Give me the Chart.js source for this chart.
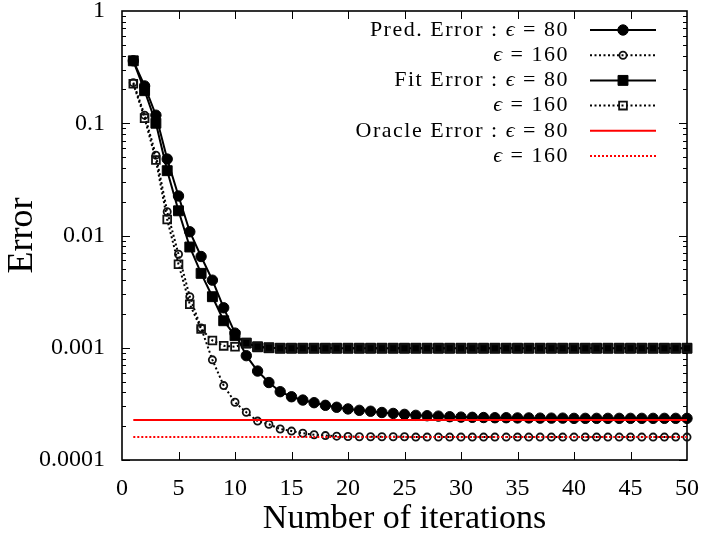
<!DOCTYPE html>
<html><head><meta charset="utf-8">
<script src="https://cdn.jsdelivr.net/npm/chart.js@4.4.1/dist/chart.umd.min.js"></script>
<style>html,body{margin:0;padding:0;background:#fff}#wrap{width:704px;height:539px}</style>
</head><body><div id="wrap"><canvas id="c" width="704" height="539"></canvas></div>
<script>
// ---- data ----
const iterations = [1,2,3,4,5,6,7,8,9,10,11,12,13,14,15,16,17,18,19,20,21,22,23,24,25,26,27,28,29,30,31,32,33,34,35,36,37,38,39,40,41,42,43,44,45,46,47,48,49,50];
const predErr80 = [0.36,0.215,0.118,0.048,0.0225,0.0108,0.0065,0.0040,0.00227,0.00135,0.00085,0.00062,0.00049,0.000406,0.000366,0.000342,0.000324,0.000307,0.000295,0.000285,0.000277,0.000272,0.000265,0.00026,0.000255,0.00025,0.000248,0.000246,0.000243,0.000241,0.00024,0.000239,0.000238,0.000238,0.000237,0.000237,0.000236,0.000236,0.000236,0.000235,0.000235,0.000235,0.000235,0.000235,0.000235,0.000235,0.000235,0.000235,0.000235,0.000235];
const predErr160 = [0.23,0.118,0.052,0.0163,0.0068,0.00285,0.0015,0.00078,0.00046,0.000327,0.000266,0.000222,0.000208,0.000189,0.000181,0.000173,0.000168,0.000165,0.000163,0.000162,0.000161,0.000161,0.000161,0.000161,0.000161,0.00016,0.00016,0.00016,0.00016,0.00016,0.00016,0.00016,0.00016,0.00016,0.00016,0.00016,0.00016,0.00016,0.00016,0.00016,0.00016,0.00016,0.00016,0.00016,0.00016,0.00016,0.00016,0.00016,0.00016,0.00016];
const fitErr80 = [0.36,0.195,0.10,0.0378,0.0166,0.0079,0.0046,0.00285,0.00174,0.00128,0.0011,0.00102,0.0010,0.00099,0.00099,0.00099,0.00099,0.00099,0.00099,0.00099,0.00099,0.00099,0.00099,0.00099,0.00099,0.00099,0.00099,0.00099,0.00099,0.00099,0.00099,0.00099,0.00099,0.00099,0.00099,0.00099,0.00099,0.00099,0.00099,0.00099,0.00099,0.00099,0.00099,0.00099,0.00099,0.00099,0.00099,0.00099,0.00099,0.00099];
const fitErr160 = [0.225,0.111,0.047,0.0139,0.00554,0.00244,0.00147,0.00116,0.00104,0.00102,0.0011,0.00102,0.0010,0.00099,0.00099,0.00099,0.00099,0.00099,0.00099,0.00099,0.00099,0.00099,0.00099,0.00099,0.00099,0.00099,0.00099,0.00099,0.00099,0.00099,0.00099,0.00099,0.00099,0.00099,0.00099,0.00099,0.00099,0.00099,0.00099,0.00099,0.00099,0.00099,0.00099,0.00099,0.00099,0.00099,0.00099,0.00099,0.00099,0.00099];
const oracleX = [1, 50];
const oracle80 = [0.000227, 0.000227];
const oracle160 = [0.00016, 0.00016];
const xTickValues = [0,5,10,15,20,25,30,35,40,45,50];
const yTickValues = [0.0001,0.001,0.01,0.1,1];
const yTickLabels = ['0.0001','0.001','0.01','0.1','1'];
const legendPrefix = ['Pred. Error : ','','Fit Error : ','','Oracle Error : ',''];
const legendEps = ['80','160','80','160','80','160'];

const SERIF = '"Liberation Serif", "DejaVu Serif", serif';
const pts = (xs, ys) => xs.map((x,i)=>({x, y: ys[i]}));

const datasets = [
  {label:'pred80', data: pts(iterations,predErr80), borderColor:'#000', borderWidth:2, pointStyle:'circle', pointRadius:5.2, pointBackgroundColor:'#000', pointBorderColor:'#000', pointBorderWidth:1, order:6},
  {label:'pred160', data: pts(iterations,predErr160), borderColor:'#000', borderWidth:2, borderDash:[2,2.5], pointStyle:'circle', pointRadius:3.6, pointBackgroundColor:'rgba(0,0,0,0)', pointBorderColor:'#111', pointBorderWidth:1.8, order:5},
  {label:'fit80', data: pts(iterations,fitErr80), borderColor:'#000', borderWidth:2, pointStyle:'rect', pointRadius:7, pointBackgroundColor:'#000', pointBorderColor:'#000', pointBorderWidth:1, order:4},
  {label:'fit160', data: pts(iterations,fitErr160), borderColor:'#000', borderWidth:2, borderDash:[2,2.5], pointStyle:'rect', pointRadius:5.5, pointBackgroundColor:'rgba(0,0,0,0)', pointBorderColor:'#111', pointBorderWidth:1.8, order:3},
  {label:'oracle80', data: pts(oracleX,oracle80), borderColor:'#ff0000', borderWidth:2, pointRadius:0, order:2},
  {label:'oracle160', data: pts(oracleX,oracle160), borderColor:'#ff0000', borderWidth:2, borderDash:[2,2], pointRadius:0, order:1},
];
datasets.forEach(d=>{ d.tension=0; d.fill=false; d.clip=false; d.pointHoverRadius=d.pointRadius; });

const frameTicks = {
  id:'frameTicks',
  beforeDatasetsDraw(chart){
    const {ctx, chartArea:a, scales:{x,y}} = chart;
    ctx.save();
    ctx.strokeStyle='#000';
    ctx.lineWidth=1;
    ctx.beginPath();
    xTickValues.forEach(v=>{
      if (v===xTickValues[0] || v===xTickValues[xTickValues.length-1]) return;
      const px=Math.round(x.getPixelForValue(v))+0.5;
      ctx.moveTo(px,a.bottom); ctx.lineTo(px,a.bottom-8);
      ctx.moveTo(px,a.top); ctx.lineTo(px,a.top+8);
    });
    for (let i=0;i<yTickValues.length-1;i++){
      for (let k=1;k<10;k++){
        const v=yTickValues[i]*k;
        const py=Math.round(y.getPixelForValue(v))+0.5;
        const len = k===1?8:4;
        ctx.moveTo(a.left,py); ctx.lineTo(a.left+len,py);
        ctx.moveTo(a.right,py); ctx.lineTo(a.right-len,py);
      }
    }
    ctx.stroke();
    ctx.lineWidth=1.6;
    ctx.strokeRect(a.left, a.top, a.right-a.left, a.bottom-a.top);
    ctx.restore();
  }
};

function drawMarker(ctx, ds, x, y){
  if (!ds.pointRadius) return;
  ctx.save();
  ctx.setLineDash([]);
  ctx.fillStyle = ds.pointBackgroundColor;
  ctx.strokeStyle = ds.pointBorderColor;
  ctx.lineWidth = ds.pointBorderWidth;
  ctx.beginPath();
  if (ds.pointStyle==='rect'){
    const s = Math.SQRT1_2*ds.pointRadius;
    ctx.rect(x-s,y-s,2*s,2*s);
  } else {
    ctx.arc(x,y,ds.pointRadius,0,Math.PI*2);
  }
  ctx.fill(); ctx.stroke();
  ctx.restore();
}

const customLegend = {
  id:'customLegend',
  afterDraw(chart){
    const {ctx, chartArea:a} = chart;
    const fR = '22px '+SERIF, fI = 'italic 22px '+SERIF;
    const textRight = a.right - 118;
    const lineL = a.right - 97, lineR = a.right - 31, mark = a.right - 64;
    ctx.save();
    ctx.letterSpacing = '1.5px';
    ctx.textBaseline='middle'; ctx.textAlign='left'; ctx.fillStyle='#000';
    legendPrefix.forEach((pre,i)=>{
      const yy = a.top + 19 + i*25.2;
      const parts = [[pre,fR],['\u03F5',fI],[' = '+legendEps[i],fR]];
      let total=0; const w=parts.map(p=>{ctx.font=p[1]; const m=ctx.measureText(p[0]).width; total+=m; return m;});
      let xx = textRight-total;
      parts.forEach((p,j)=>{ctx.font=p[1]; ctx.fillText(p[0],xx,yy); xx+=w[j];});
      const ds = chart.data.datasets[i];
      ctx.save();
      ctx.strokeStyle=ds.borderColor; ctx.lineWidth=ds.borderWidth; ctx.setLineDash(ds.borderDash||[]);
      ctx.beginPath(); ctx.moveTo(lineL,yy); ctx.lineTo(lineR,yy); ctx.stroke();
      ctx.restore();
      drawMarker(ctx, ds, mark, yy);
    });
    ctx.restore();
  }
};

new Chart(document.getElementById('c'), {
  type:'line',
  data:{datasets},
  plugins:[frameTicks, customLegend],
  options:{
    responsive:false, animation:false, devicePixelRatio:1,
    layout:{autoPadding:false, padding:{top:11,right:17,left:0,bottom:0}},
    plugins:{legend:{display:false}, tooltip:{enabled:false}},
    scales:{
      x:{type:'linear', min:0, max:50,
        afterBuildTicks(s){ s.ticks = xTickValues.map(v=>({value:v})); },
        afterFit(s){ s.height = 79; s.paddingLeft = 0; s.paddingRight = 0; },
        grid:{display:false, drawTicks:false}, border:{display:false},
        ticks:{font:{family:SERIF,size:24}, color:'#000', padding:14, autoSkip:false, maxRotation:0},
        title:{display:true, text:'Number of iterations', font:{family:SERIF,size:34}, color:'#000', padding:{top:0,bottom:0}}
      },
      y:{type:'logarithmic', min:0.0001, max:1,
        afterBuildTicks(s){ s.ticks = yTickValues.map(v=>({value:v})); },
        afterFit(s){ s.width = 122; s.paddingTop = 0; s.paddingBottom = 0; },
        grid:{display:false, drawTicks:false}, border:{display:false},
        ticks:{font:{family:SERIF,size:24}, color:'#000', padding:17, autoSkip:false,
          callback(v){ const i=yTickValues.indexOf(v); return i>=0?yTickLabels[i]:''; }},
        title:{display:true, text:'Error', font:{family:SERIF,size:36}, color:'#000', padding:{top:1,bottom:0}}
      }
    }
  }
});
</script></body></html>
